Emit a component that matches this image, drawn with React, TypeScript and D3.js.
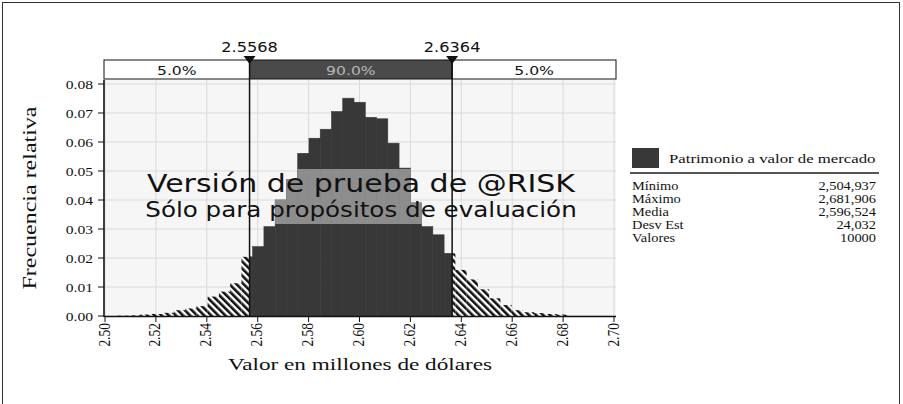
import { useEffect, useRef } from "react";
import * as d3 from "d3";

const W = 903;
const H = 404;
const SX = 1.2; // the reference is stretched horizontally

// relative frequency per bin, from the minimum to the maximum value
const binFreq = [
  0.0001, 0.0002, 0.0005, 0.0007, 0.0011, 0.002, 0.0026, 0.0034, 0.0067, 0.0084,
  0.0113, 0.0204, 0.0239, 0.0308, 0.04, 0.047, 0.0561, 0.0613, 0.0644, 0.0705,
  0.0751, 0.0737, 0.0685, 0.068, 0.0596, 0.051, 0.039, 0.0308, 0.028, 0.0216,
  0.0159, 0.0126, 0.0092, 0.0061, 0.0038, 0.002, 0.0013, 0.001, 0.0007, 0.0005,
];
const histMin = 2.504937;
const histMax = 2.681906;
const cutLeft = 2.5568;
const cutRight = 2.6364;
const cutLabels = ["2.5568", "2.6364"];
const bandLabels = ["5.0%", "90.0%", "5.0%"];
const xTicks = [2.5, 2.52, 2.54, 2.56, 2.58, 2.6, 2.62, 2.64, 2.66, 2.68, 2.7];
const yTicks = [0, 0.01, 0.02, 0.03, 0.04, 0.05, 0.06, 0.07, 0.08];
const seriesName = "Patrimonio a valor de mercado";
const statLabels = ["Mínimo", "Máximo", "Media", "Desv Est", "Valores"];
const statValues = ["2,504,937", "2,681,906", "2,596,524", "24,032", "10000"];

const P = { left: 105, right: 614, top: 80, bottom: 316 };
const SERIF = "'Liberation Serif', 'Times New Roman', serif";
const SANS = "'DejaVu Sans', Verdana, sans-serif";
const DARK = "#383838";

export default function App() {
  const svgRef = useRef<SVGSVGElement>(null);

  useEffect(() => {
    if (!svgRef.current) return;
    const root = d3.select(svgRef.current);
    root.selectAll("*").remove();

    const x = d3.scaleLinear().domain([2.5, 2.7]).range([P.left, P.right]);
    const y = d3.scaleLinear().domain([0, 0.08]).range([P.bottom, P.bottom - 0.08 * 2900]);
    const bin = d3.scaleLinear().domain([0, binFreq.length]).range([histMin, histMax]);

    const defs = root.append("defs");
    const pat = defs
      .append("pattern")
      .attr("id", "hatch")
      .attr("patternUnits", "userSpaceOnUse")
      .attr("width", 5)
      .attr("height", 5)
      .attr("patternTransform", "rotate(-45)");
    pat.append("rect").attr("width", 5).attr("height", 5).attr("fill", "#fff");
    pat.append("rect").attr("width", 2.6).attr("height", 5).attr("fill", "#111");
    // watermark box, only visible where it covers the bars
    defs
      .append("clipPath")
      .attr("id", "wm")
      .append("rect")
      .attr("x", 135)
      .attr("y", 169)
      .attr("width", 455)
      .attr("height", 55);

    // outer frame
    root
      .append("rect")
      .attr("x", 2.5)
      .attr("y", 2.5)
      .attr("width", 897)
      .attr("height", 440)
      .attr("fill", "#fff")
      .attr("stroke", "#333")
      .attr("stroke-width", 1);

    const text = (
      g: d3.Selection<any, unknown, null, undefined>,
      tx: number,
      ty: number,
      str: string,
      size: number,
      family: string,
      anchor = "start",
      rotate = 0
    ) =>
      g
        .append("text")
        .attr("transform", `translate(${tx},${ty}) scale(${SX},1)${rotate ? ` rotate(${rotate})` : ""}`)
        .attr("text-anchor", anchor)
        .attr("font-family", family)
        .attr("font-size", size)
        .attr("fill", "#111")
        .text(str);

    // plot background + grid
    root
      .append("rect")
      .attr("x", P.left)
      .attr("y", P.top)
      .attr("width", P.right - P.left + 2)
      .attr("height", P.bottom - P.top)
      .attr("fill", "#f6f6f6");

    const grid = root.append("g").attr("stroke", "#dadada").attr("stroke-width", 1);
    xTicks.forEach((t) =>
      grid.append("line").attr("x1", x(t)).attr("x2", x(t)).attr("y1", P.top).attr("y2", P.bottom)
    );
    yTicks.forEach((t) =>
      grid.append("line").attr("x1", P.left).attr("x2", P.right + 2).attr("y1", y(t)).attr("y2", y(t))
    );

    // histogram bars, split at the cut values
    const segs: { a: number; b: number; f: number; tail: boolean }[] = [];
    binFreq.forEach((f, i) => {
      const x0 = bin(i);
      const x1 = bin(i + 1);
      if (x0 < cutLeft) segs.push({ a: x0, b: Math.min(x1, cutLeft), f, tail: true });
      if (x1 > cutLeft && x0 < cutRight)
        segs.push({ a: Math.max(x0, cutLeft), b: Math.min(x1, cutRight), f, tail: false });
      if (x1 > cutRight) segs.push({ a: Math.max(x0, cutRight), b: x1, f, tail: true });
    });

    const drawBars = (g: d3.Selection<SVGGElement, unknown, null, undefined>, dark: string) =>
      g
        .selectAll("rect")
        .data(segs)
        .join("rect")
        .attr("x", (d) => x(d.a))
        .attr("y", (d) => y(d.f))
        .attr("width", (d) => x(d.b) - x(d.a))
        .attr("height", (d) => y(0) - y(d.f))
        .attr("fill", (d) => (d.tail ? "url(#hatch)" : dark))
        .attr("stroke", (d) => (d.tail ? "none" : dark))
        .attr("stroke-width", 0.6);

    drawBars(root.append("g"), DARK);
    drawBars(root.append("g").attr("clip-path", "url(#wm)"), "#8d8d8d");

    text(root, 361, 192, "Versión de prueba de @RISK", 25, SANS, "middle");
    text(root, 361, 217, "Sólo para propósitos de evaluación", 20.5, SANS, "middle");

    // axes
    const axis = root.append("g").attr("stroke", "#111");
    axis
      .append("line")
      .attr("x1", P.left - 1)
      .attr("x2", P.left - 1)
      .attr("y1", P.top)
      .attr("y2", P.bottom + 1)
      .attr("stroke-width", 1.6);
    axis
      .append("line")
      .attr("x1", P.left - 1)
      .attr("x2", P.right + 2)
      .attr("y1", P.bottom + 0.5)
      .attr("y2", P.bottom + 0.5)
      .attr("stroke-width", 1.4);
    yTicks.forEach((t) => {
      axis.append("line").attr("x1", P.left - 7).attr("x2", P.left - 1).attr("y1", y(t)).attr("y2", y(t));
      text(root, 93, y(t) + 4.5, d3.format(".2f")(t), 13, SERIF, "end");
    });
    xTicks.forEach((t) => {
      axis
        .append("line")
        .attr("x1", x(t))
        .attr("x2", x(t))
        .attr("y1", P.bottom)
        .attr("y2", P.bottom + 6);
      text(root, x(t) + 4.5, 323, d3.format(".2f")(t), 13.5, SERIF, "end", -90);
    });

    text(root, 36, 198, "Frecuencia relativa", 15, SERIF, "middle", -90).attr("textLength", 183).attr(
      "lengthAdjust",
      "spacingAndGlyphs"
    );
    text(root, 360, 370, "Valor en millones de dólares", 16, SERIF, "middle")
      .attr("textLength", 220)
      .attr("lengthAdjust", "spacingAndGlyphs");

    // percentile band
    const band = root.append("g");
    const edges = [x(2.5) - 1, x(cutLeft), x(cutRight), x(2.7) + 2];
    bandLabels.forEach((lab, i) => {
      band
        .append("rect")
        .attr("x", edges[i])
        .attr("y", 60)
        .attr("width", edges[i + 1] - edges[i])
        .attr("height", 19)
        .attr("fill", i === 1 ? "#4a4a4a" : "#fff")
        .attr("stroke", "#111")
        .attr("stroke-width", 1);
      text(band, (edges[i] + edges[i + 1]) / 2, 75, lab, 13, SANS, "middle").attr(
        "fill",
        i === 1 ? "#b8b8b8" : "#111"
      );
    });

    // cut lines with markers
    [cutLeft, cutRight].forEach((c, i) => {
      const cx = x(c);
      root
        .append("line")
        .attr("x1", cx)
        .attr("x2", cx)
        .attr("y1", 57)
        .attr("y2", P.bottom)
        .attr("stroke", "#111")
        .attr("stroke-width", 1.5);
      root
        .append("path")
        .attr("d", `M${cx - 6},56 L${cx + 6},56 L${cx},64 Z`)
        .attr("fill", "#111");
      text(root, cx, 51.5, cutLabels[i], 13.5, SANS, "middle");
    });

    // legend
    const leg = root.append("g");
    leg
      .append("rect")
      .attr("x", 632)
      .attr("y", 148)
      .attr("width", 27)
      .attr("height", 20)
      .attr("fill", DARK);
    text(leg, 669, 163, seriesName, 11.5, SERIF).attr("textLength", 172).attr("lengthAdjust", "spacingAndGlyphs");
    leg
      .append("line")
      .attr("x1", 630)
      .attr("x2", 879)
      .attr("y1", 173)
      .attr("y2", 173)
      .attr("stroke", "#555")
      .attr("stroke-width", 2);
    statLabels.forEach((lab, i) => {
      text(leg, 632, 190 + i * 13, lab, 12, SERIF);
      text(leg, 876, 190 + i * 13, statValues[i], 12, SERIF, "end");
    });
  }, []);

  return (
    <svg
      ref={svgRef}
      width={W}
      height={H}
      viewBox={`0 0 ${W} ${H}`}
      style={{ position: "absolute", left: 0, top: 0, background: "#fff" }}
    />
  );
}
